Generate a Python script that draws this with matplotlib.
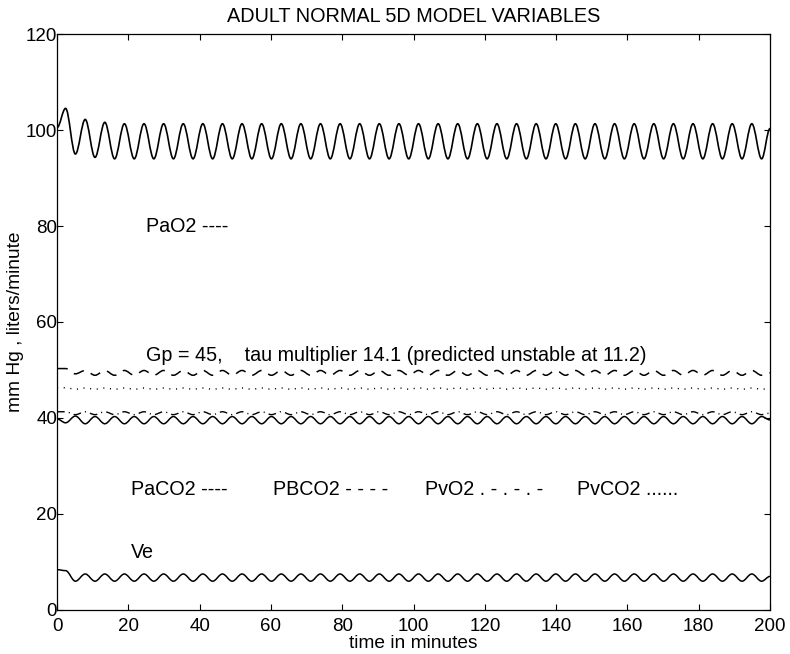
"""Adult normal 5D model variables: PaO2, PaCO2, PBCO2, PvO2, PvCO2 and Ve
oscillating over 200 minutes (Gp = 45, tau multiplier 14.1)."""

import matplotlib
matplotlib.use("Agg")
import matplotlib.pyplot as plt
from matplotlib.path import Path
from matplotlib.patches import PathPatch

plt.rcParams.update({
    "font.family": ["Liberation Sans", "DejaVu Sans"],
    "font.size": 14.2,
    "axes.linewidth": 0.9,
    "xtick.direction": "in",
    "ytick.direction": "in",
    "xtick.top": True,
    "ytick.right": True,
    "xtick.major.size": 4.5,
    "ytick.major.size": 4.5,
})

# extrema times (min), shared by all series
t_ext = [0, 2.4, 5.15, 7.9, 10.65, 13.4, 16.15, 18.9, 21.65, 24.4,
         27.15, 29.9, 32.65, 35.4, 38.15, 40.9, 43.65, 46.4, 49.15, 51.9,
         54.65, 57.4, 60.15, 62.9, 65.65, 68.4, 71.15, 73.9, 76.65, 79.4,
         82.15, 84.9, 87.65, 90.4, 93.15, 95.9, 98.65, 101.4, 104.15, 106.9,
         109.65, 112.4, 115.15, 117.9, 120.65, 123.4, 126.15, 128.9, 131.65, 134.4,
         137.15, 139.9, 142.65, 145.4, 148.15, 150.9, 153.65, 156.4, 159.15, 161.9,
         164.65, 167.4, 170.15, 172.9, 175.65, 178.4, 181.15, 183.9, 186.65, 189.4,
         192.15, 194.9, 197.65, 200]

pao2 = [100.5, 104.5, 95.0, 102.2, 94.3, 101.6, 94.0,
        101.3, 94.0, 101.3, 94.0, 101.3, 94.0, 101.3, 94.0, 101.3, 94.0,
        101.3, 94.0, 101.3, 94.0, 101.3, 94.0, 101.3, 94.0, 101.3, 94.0,
        101.3, 94.0, 101.3, 94.0, 101.3, 94.0, 101.3, 94.0, 101.3, 94.0,
        101.3, 94.0, 101.3, 94.0, 101.3, 94.0, 101.3, 94.0, 101.3, 94.0,
        101.3, 94.0, 101.3, 94.0, 101.3, 94.0, 101.3, 94.0, 101.3, 94.0,
        101.3, 94.0, 101.3, 94.0, 101.3, 94.0, 101.3, 94.0, 101.3, 94.0,
        101.3, 94.0, 101.3, 94.0, 101.3, 94.0,
        100.3]

paco2 = [39.8, 39.0, 40.4, 38.8, 40.3, 38.8, 40.3,
         38.8, 40.3, 38.8, 40.3, 38.8, 40.3, 38.8, 40.3, 38.8, 40.3,
         38.8, 40.3, 38.8, 40.3, 38.8, 40.3, 38.8, 40.3, 38.8, 40.3,
         38.8, 40.3, 38.8, 40.3, 38.8, 40.3, 38.8, 40.3, 38.8, 40.3,
         38.8, 40.3, 38.8, 40.3, 38.8, 40.3, 38.8, 40.3, 38.8, 40.3,
         38.8, 40.3, 38.8, 40.3, 38.8, 40.3, 38.8, 40.3, 38.8, 40.3,
         38.8, 40.3, 38.8, 40.3, 38.8, 40.3, 38.8, 40.3, 38.8, 40.3,
         38.8, 40.3, 38.8, 40.3, 38.8, 40.3,
         39.6]

pbco2 = [50.3, 50.3, 49.2, 49.9, 48.9, 49.9, 48.9,
         49.9, 48.9, 49.9, 48.9, 49.9, 48.9, 49.9, 48.9, 49.9, 48.9,
         49.9, 48.9, 49.9, 48.9, 49.9, 48.9, 49.9, 48.9, 49.9, 48.9,
         49.9, 48.9, 49.9, 48.9, 49.9, 48.9, 49.9, 48.9, 49.9, 48.9,
         49.9, 48.9, 49.9, 48.9, 49.9, 48.9, 49.9, 48.9, 49.9, 48.9,
         49.9, 48.9, 49.9, 48.9, 49.9, 48.9, 49.9, 48.9, 49.9, 48.9,
         49.9, 48.9, 49.9, 48.9, 49.9, 48.9, 49.9, 48.9, 49.9, 48.9,
         49.9, 48.9, 49.9, 48.9, 49.9, 48.9,
         49.4]

pvo2 = [41.3, 41.3, 40.7, 41.3, 40.7, 41.3, 40.7,
        41.3, 40.7, 41.3, 40.7, 41.3, 40.7, 41.3, 40.7, 41.3, 40.7,
        41.3, 40.7, 41.3, 40.7, 41.3, 40.7, 41.3, 40.7, 41.3, 40.7,
        41.3, 40.7, 41.3, 40.7, 41.3, 40.7, 41.3, 40.7, 41.3, 40.7,
        41.3, 40.7, 41.3, 40.7, 41.3, 40.7, 41.3, 40.7, 41.3, 40.7,
        41.3, 40.7, 41.3, 40.7, 41.3, 40.7, 41.3, 40.7, 41.3, 40.7,
        41.3, 40.7, 41.3, 40.7, 41.3, 40.7, 41.3, 40.7, 41.3, 40.7,
        41.3, 40.7, 41.3, 40.7, 41.3, 40.7,
        41.0]

pvco2 = [46.3, 46.3, 46.0, 46.25, 46.0, 46.25, 46.0,
         46.25, 46.0, 46.25, 46.0, 46.25, 46.0, 46.25, 46.0, 46.25, 46.0,
         46.25, 46.0, 46.25, 46.0, 46.25, 46.0, 46.25, 46.0, 46.25, 46.0,
         46.25, 46.0, 46.25, 46.0, 46.25, 46.0, 46.25, 46.0, 46.25, 46.0,
         46.25, 46.0, 46.25, 46.0, 46.25, 46.0, 46.25, 46.0, 46.25, 46.0,
         46.25, 46.0, 46.25, 46.0, 46.25, 46.0, 46.25, 46.0, 46.25, 46.0,
         46.25, 46.0, 46.25, 46.0, 46.25, 46.0, 46.25, 46.0, 46.25, 46.0,
         46.25, 46.0, 46.25, 46.0, 46.25, 46.0,
         46.1]

ve = [8.4, 8.2, 6.0, 7.5, 6.0, 7.5, 6.0,
      7.5, 6.0, 7.5, 6.0, 7.5, 6.0, 7.5, 6.0, 7.5, 6.0,
      7.5, 6.0, 7.5, 6.0, 7.5, 6.0, 7.5, 6.0, 7.5, 6.0,
      7.5, 6.0, 7.5, 6.0, 7.5, 6.0, 7.5, 6.0, 7.5, 6.0,
      7.5, 6.0, 7.5, 6.0, 7.5, 6.0, 7.5, 6.0, 7.5, 6.0,
      7.5, 6.0, 7.5, 6.0, 7.5, 6.0, 7.5, 6.0, 7.5, 6.0,
      7.5, 6.0, 7.5, 6.0, 7.5, 6.0, 7.5, 6.0, 7.5, 6.0,
      7.5, 6.0, 7.5, 6.0, 7.5, 6.0,
      7.0]


def smooth_trace(ax, t, y, **kw):
    """Bezier through the extrema with flat tangents (sine-like swing)."""
    verts = [(t[0], y[0])]
    codes = [Path.MOVETO]
    for i in range(len(t) - 1):
        dt = t[i + 1] - t[i]
        verts += [(t[i] + 0.36 * dt, y[i]),
                  (t[i + 1] - 0.36 * dt, y[i + 1]),
                  (t[i + 1], y[i + 1])]
        codes += [Path.CURVE4] * 3
    ax.add_patch(PathPatch(Path(verts, codes), fill=False,
                           edgecolor="black", **kw))


fig = plt.figure(figsize=(7.9, 6.54), dpi=100)
ax = fig.add_axes([0.0722, 0.0673, 0.9025, 0.8807])

smooth_trace(ax, t_ext, pao2, lw=1.2)
smooth_trace(ax, t_ext, paco2, lw=1.1)
smooth_trace(ax, t_ext, pbco2, lw=1.1, linestyle=(0, (7, 5)))
smooth_trace(ax, t_ext, pvo2, lw=1.0, linestyle=(0, (5.5, 3, 0.8, 3)))
smooth_trace(ax, t_ext, pvco2, lw=1.0, linestyle=(0, (0.8, 4.0)))
smooth_trace(ax, t_ext, ve, lw=1.1)

ax.set_xlim(0, 200)
ax.set_ylim(0, 120)
ax.set_xticks(range(0, 201, 20))
ax.set_yticks(range(0, 121, 20))
ax.tick_params(axis="x", labelsize=13.5, pad=5.5)
ax.tick_params(axis="y", labelsize=13.5, pad=0)

ax.text(25, 80, "PaO2 ----", va="center")
ax.text(25, 53, "Gp = 45,    tau multiplier 14.1 (predicted unstable at 11.2)",
        va="center")
ax.text(20.7, 25, "PaCO2 ----", va="center")
ax.text(60.7, 25, "PBCO2 - - - -", va="center")
ax.text(103.2, 25, "PvO2 . - . - . -", va="center")
ax.text(145.8, 25, "PvCO2 ......", va="center")
ax.text(20.7, 12, "Ve", va="center")

ax.set_title("ADULT NORMAL 5D MODEL VARIABLES", fontsize=14.3, pad=9)
ax.set_xlabel("time in minutes", fontsize=13.8, labelpad=0)
ax.set_ylabel("mm Hg , liters/minute", fontsize=13.8, labelpad=1)

fig.savefig("out.png", dpi=100)
